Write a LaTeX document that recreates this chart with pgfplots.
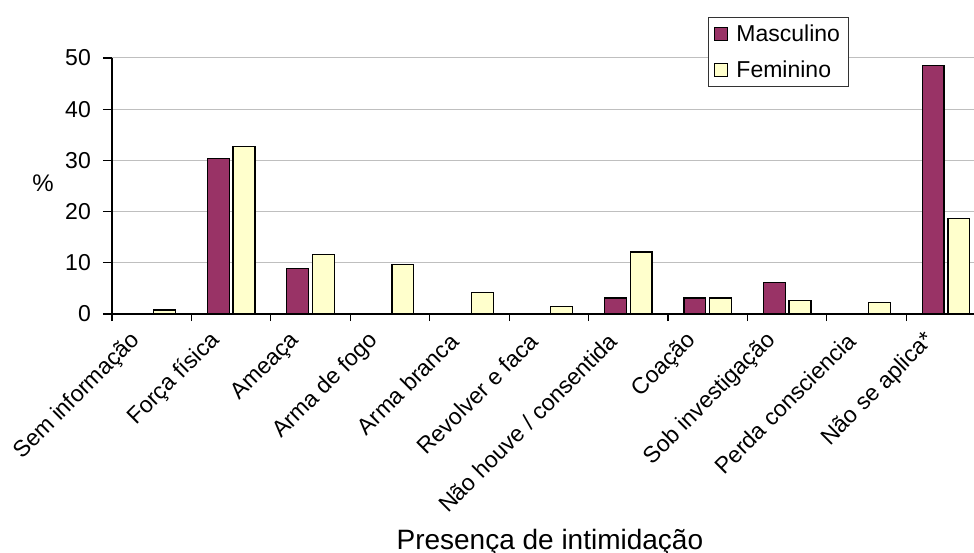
\documentclass[border=0pt]{standalone}
\usepackage{fontspec}
\setmainfont{Liberation Sans}
\usepackage{pgfplots}
\pgfplotsset{compat=1.18}
\definecolor{masc}{HTML}{993366}
\definecolor{fem}{HTML}{FFFFCC}
\pgfplotsset{sqlegend/.style={legend image code/.code={\draw[##1, line width=1.1pt] (0pt,-6.5pt) rectangle (13pt,6.5pt);}}}
\begin{document}
\begin{tikzpicture}
\useasboundingbox (-112pt,-239pt) rectangle (862pt,314pt);
\begin{axis}[
  at={(0,0)}, anchor=south west,
  scale only axis, width=862pt, height=256pt,
  xmin=-0.5, xmax=10.353, ymin=0, ymax=50,
  axis x line=bottom, axis y line=left,
  axis line style={-, line width=1.3pt, black},
  ytick={0,10,...,50},
  ymajorgrids, grid style={line width=1pt, color=black!25},
  tick align=outside, major tick length=9pt, minor tick length=7pt,
  tick style={black, line width=1.2pt},
  xtick={0,...,10},
  xticklabels={Sem informação, Força física, Ameaça, Arma de fogo, Arma branca, Revolver e faca, Não houve / consentida, Coação, Sob investigação, Perda consciencia, Não se aplica*},
  major x tick style={draw=none},
  minor xtick={-0.5,0.5,...,9.5},
  /pgf/number format/assume math mode=true,
  tick label style={font=\fontsize{23}{27}\selectfont},
  yticklabel style={anchor=east, inner sep=0pt, xshift=-12pt},
  xticklabel style={inner sep=0pt, xshift=-15pt, yshift=-14pt, rotate=45, anchor=east},
  xlabel={Presença de intimidação},
  every axis x label/.style={at={(axis description cs:0.508,-0.918)}, anchor=base, inner sep=0pt, font=\fontsize{28}{32}\selectfont},
  ylabel={\%},
  every axis y label/.style={at={(axis description cs:-0.08,0.51)}, anchor=center, font=\fontsize{24}{28}\selectfont},
  legend style={at={(axis description cs:0.6914,1.160)}, anchor=north west, draw=black!80, line width=0.8pt, fill=white,
    inner xsep=6pt, inner ysep=5.5pt, row sep=14pt, font=\fontsize{23}{27}\selectfont,
    nodes={inner sep=2pt},
    /tikz/every odd column/.append style={column sep=6pt}},
  legend cell align=left,
]
\addplot[ybar, bar width=0.275, bar shift=-0.162, fill=masc, draw=black, line width=1.3pt, sqlegend]
  coordinates {(1,30.4) (2,8.9) (6,3.1) (7,3.1) (8,6.2) (10,48.5)};
\addplot[ybar, bar width=0.275, bar shift=0.162, fill=fem, draw=black, line width=1.3pt, sqlegend]
  coordinates {(0,0.8) (1,32.7) (2,11.6) (3,9.7) (4,4.2) (5,1.5) (6,12.1) (7,3.1) (8,2.7) (9,2.3) (10,18.7)};
\legend{Masculino, Feminino}
\end{axis}
\end{tikzpicture}
\end{document}
